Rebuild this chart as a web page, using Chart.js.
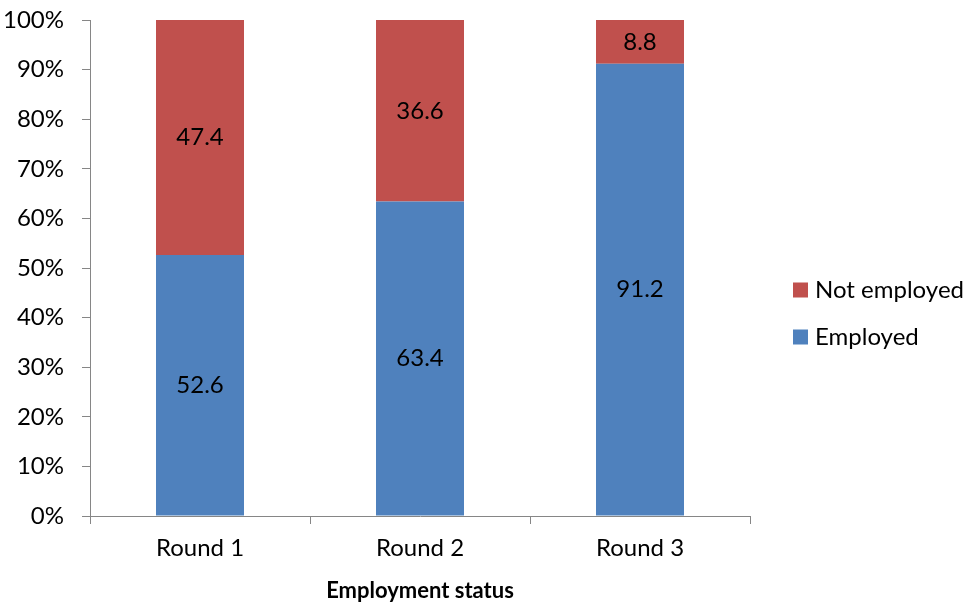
<!DOCTYPE html>
<html>
<head>
<meta charset="utf-8">
<script src="https://cdn.jsdelivr.net/npm/chart.js@4/dist/chart.umd.min.js"></script>
<style>
  html, body { margin: 0; padding: 0; background: #fff; }
  #wrap { width: 971px; height: 605px; }
</style>
</head>
<body>
<div id="wrap"><canvas id="c" width="971" height="605"></canvas></div>
<script>
const rounds = ['Round 1', 'Round 2', 'Round 3'];
const employed = [52.6, 63.4, 91.2];
const notEmployed = [47.4, 36.6, 8.8];
const seriesNames = ['Employed', 'Not employed'];
const seriesColors = ['#4F81BD', '#C0504D'];
const axisTitle = 'Employment status';

const FONT = 'Lato, "Liberation Sans", sans-serif';
const AXIS_GREY = '#868686';

// Values written in the middle of every bar segment
const segmentLabels = {
  id: 'segmentLabels',
  afterDatasetsDraw(chart) {
    const ctx = chart.ctx;
    ctx.save();
    ctx.font = '24px ' + FONT;
    ctx.fillStyle = '#000';
    ctx.textAlign = 'center';
    ctx.textBaseline = 'middle';
    chart.data.datasets.forEach((ds, di) => {
      chart.getDatasetMeta(di).data.forEach((bar, i) => {
        const mid = (bar.y + bar.base) / 2;
        ctx.fillText(ds.data[i].toFixed(1), bar.x, mid);
      });
    });
    ctx.restore();
  }
};

// Legend at the right, last series on top
const sideLegend = {
  id: 'sideLegend',
  afterDraw(chart) {
    const ctx = chart.ctx;
    const ds = chart.data.datasets.slice().reverse();
    const x0 = 793, yTop = 290, gap = 47, box = 15;
    ctx.save();
    ctx.font = '24px ' + FONT;
    ctx.textBaseline = 'middle';
    ctx.textAlign = 'left';
    ds.forEach((d, k) => {
      const y = yTop + k * gap;
      ctx.fillStyle = d.backgroundColor;
      ctx.fillRect(x0, y - box / 2, box, box);
      ctx.fillStyle = '#000';
      ctx.fillText(d.label, x0 + box + 7, y);
    });
    ctx.restore();
  }
};

new Chart(document.getElementById('c'), {
  type: 'bar',
  data: {
    labels: rounds,
    datasets: [
      { label: seriesNames[0], data: employed, backgroundColor: seriesColors[0] },
      { label: seriesNames[1], data: notEmployed, backgroundColor: seriesColors[1] }
    ]
  },
  options: {
    responsive: false,
    animation: false,
    layout: { padding: { top: 20, right: 221, left: 0, bottom: 0 } },
    datasets: { bar: { categoryPercentage: 1, barPercentage: 0.4 } },
    plugins: { legend: { display: false }, tooltip: { enabled: false } },
    scales: {
      x: {
        stacked: true,
        afterFit(s) { s.height = 89; s.paddingLeft = 0; s.paddingRight = 0; },
        border: { display: true, color: AXIS_GREY, width: 1 },
        grid: { offset: true, drawOnChartArea: false, drawTicks: true, tickLength: 8, color: AXIS_GREY },
        ticks: { color: '#000', font: { family: FONT, size: 24 }, padding: 10 },
        title: {
          display: true, text: axisTitle, color: '#000',
          font: { family: FONT, size: 22, weight: 'bold' },
          padding: { top: 4, bottom: 1 }
        }
      },
      y: {
        stacked: true,
        min: 0, max: 100,
        afterFit(s) { s.width = 90; s.paddingTop = 0; s.paddingBottom = 0; },
        border: { display: true, color: AXIS_GREY, width: 1 },
        grid: { drawOnChartArea: false, drawTicks: true, tickLength: 8, color: AXIS_GREY },
        ticks: {
          stepSize: 10, color: '#000', padding: 18,
          font: { family: FONT, size: 24 },
          callback: v => v + '%'
        }
      }
    }
  },
  plugins: [segmentLabels, sideLegend]
});
</script>
</body>
</html>
